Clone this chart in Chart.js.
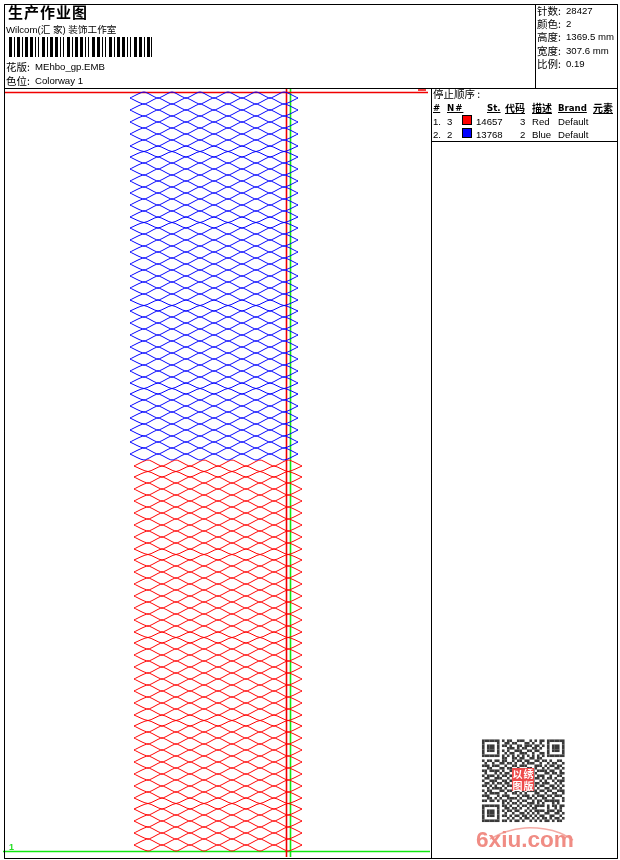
<!DOCTYPE html>
<html><head><meta charset="utf-8">
<script src="https://cdn.jsdelivr.net/npm/chart.js@4"></script>
<style>
html,body{margin:0;padding:0;background:#fff}
#w{position:relative;width:620px;height:860px;overflow:hidden}
canvas{position:absolute;left:0;top:0}
.t{position:absolute;white-space:pre;color:#000;font:9.6px/12px "Liberation Sans","Noto Sans CJK SC",sans-serif}
.c{font:10.5px/12px "Noto Sans CJK SC",sans-serif}
.h{font:bold 8.6px/12px "DejaVu Sans",sans-serif;text-decoration:underline}
.hc{font:bold 10px/12px "Noto Sans CJK SC",sans-serif;text-decoration:underline}
.s{position:absolute;border:1px solid #000}
</style></head><body><div id="w"><canvas id="c" width="620" height="860"></canvas>
<div class="t" style="left:8px;top:2px;font:bold 15px/20px 'Noto Sans CJK SC';letter-spacing:1px">生产作业图</div>
<div class="t" style="left:6px;top:24px">Wilcom(汇 家) 装饰工作室</div>
<div class="t c" style="left:6px;top:61px">花版:</div><div class="t" style="left:35px;top:61px">MEhbo_gp.EMB</div>
<div class="t c" style="left:6px;top:75px">色位:</div><div class="t" style="left:35px;top:75px">Colorway 1</div>
<div class="t c" style="left:537px;top:5px">针数:</div><div class="t" style="left:566px;top:5px">28427</div>
<div class="t c" style="left:537px;top:18px">颜色:</div><div class="t" style="left:566px;top:18px">2</div>
<div class="t c" style="left:537px;top:31px">高度:</div><div class="t" style="left:566px;top:31px">1369.5 mm</div>
<div class="t c" style="left:537px;top:45px">宽度:</div><div class="t" style="left:566px;top:45px">307.6 mm</div>
<div class="t c" style="left:537px;top:58px">比例:</div><div class="t" style="left:566px;top:58px">0.19</div>
<div class="t c" style="left:433px;top:88px">停止顺序 :</div>
<div class="t h" style="left:433px;top:102px">#</div>
<div class="t h" style="left:447px;top:102px;letter-spacing:1px">N#</div>
<div class="t h" style="left:487px;top:102px">St.</div>
<div class="t hc" style="left:505px;top:102px">代码</div>
<div class="t hc" style="left:532px;top:102px">描述</div>
<div class="t h" style="left:558px;top:102px">Brand</div>
<div class="t hc" style="left:593px;top:102px">元素</div>
<div class="t" style="left:433px;top:116px">1.</div><div class="t" style="left:447px;top:116px">3</div>
<div class="s" style="left:462px;top:115px;width:8px;height:8px;background:#f00"></div>
<div class="t" style="left:476px;top:116px">14657</div>
<div class="t" style="left:520px;top:116px">3</div>
<div class="t" style="left:532px;top:116px">Red</div>
<div class="t" style="left:558px;top:116px">Default</div>
<div class="t" style="left:433px;top:129px">2.</div><div class="t" style="left:447px;top:129px">2</div>
<div class="s" style="left:462px;top:128px;width:8px;height:8px;background:#00f"></div>
<div class="t" style="left:476px;top:129px">13768</div>
<div class="t" style="left:520px;top:129px">2</div>
<div class="t" style="left:532px;top:129px">Blue</div>
<div class="t" style="left:558px;top:129px">Default</div>
<div class="t" style="left:9px;top:841px;color:#22dd22;font-size:9px;font-weight:bold">1</div>
<div style="position:absolute;left:512px;top:768px;width:22px;height:23px;background:#ee4a4a;display:grid;grid-template-columns:1fr 1fr;grid-template-rows:1fr 1fr;color:#fff;font:bold 10px/11px 'Noto Sans CJK SC';text-align:center"><span>以</span><span>绣</span><span>图</span><span>版</span></div>
<div class="t" style="left:476px;top:827px;font:bold 22.6px/26px 'Liberation Sans';color:#f08c84">6xiu.com</div>
</div>
<script>
const blueNodeX=[130,144,158,172,186,200,214,228,242,256,270,284,298];
const redNodeX=[134,148,162,176,190,204,218,232,246,260,274,288,302];
const blueRowY=[92,98,104,110,116,122,128,134,140,146,151.5,157,163,169,175,181,187,193,199,205,211,217,222.5,228,234,240,246,252,258,264,270,276,282,288,294,300,305.5,311,317,323,329,335,341,347,353,359,365,371,377,383,388.5,394,400,406,412,418,424,430,436,442,448,454,460];
const redRowY=[460,466,471.5,477,483,489,495,501,507,513,519,525,531,537,543,549,554.5,560,566,572,578,584,590,596,602,608,614,620,626,632,637.5,643,649,655,661,667,673,679,685,691,697,703,709,715,720.5,726,732,738,744,750,756,762,768,774,780,786,792,798,803.5,809,815,821,827,833,839,845,851];
const blackLines=[[4.5,4.5,617.5,4.5],[4.5,858.5,617.5,858.5],[4.5,4.5,4.5,858.5],[617.5,4.5,617.5,858.5],[4.5,88.5,617.5,88.5],[535.5,4.5,535.5,88.5],[431.5,88.5,431.5,858.5],[431.5,141.5,617.5,141.5]];
const redLines=[[4,92.5,428,92.5],[286.5,89,286.5,857],[418,90,426,90]];
const greenLines=[[3,851.5,430,851.5],[290.5,89,290.5,857]];
const barThinX=[14.5,22.5,35.5,38.5,47.5,60.5,63.5,72.5,85.5,88.5,102.5,105.5,114.5,127.5,130.5,144.5,151.5];
const barWideX=[10.5,18.5,26.5,31.5,43.5,51.5,56.5,68.5,76.5,81.5,93.5,98.5,110.5,118.5,123.5,135.5,140.5,148.5];
const swooshX=[490,505,525,545,560,573];
const swooshY=[839,832,828,829,833,840];
const qrRows=["111111101011001110010101101111111","100000100110110001101001001000001","101110101101001101110110101011101","101110100011101011001101001011101","101110101010011100110110001011101","100000100101100111001001101000001","111111101010101010101010101111111","000000001100110110011011000000000","101101101100101101100110110100110","010010011011010010111001001011001","111011100100110111000111010110110","001100011011001000110100101001101","110111101001110110011011110110010","010001010110011001100100011011011","101110101101100111011011100100110","011001110010111000100110101101001","100111001101001110111001010010111","011010110110110001000110111001010","110101001011011110110101100110101","001011110100100101001010011011010","101100011011011010111101101100111","010111100100110101000110010011001","111000101110001011101011101101110","001101010011110100110100110010001","110110101101001011001011011111101","000000001010110100111010100010100","111111101101001011010111101011011","100000100110110100101100001001010","101110101011011001010111101110110","101110100100100110101010011001101","101110101101011011010101100110010","100000100010100101101010110101101","111111101101011010010101011010110"];

function wave(xs,rows,i){return xs.map((x,k)=>({x,y:(i+k)%2===1?rows[i]:rows[i+1]}));}
function meshSets(xs,rows,color){const out=[];for(let i=0;i<rows.length-1;i++)out.push({data:wave(xs,rows,i),borderColor:color,borderWidth:1,tension:0.22,pointRadius:0,clip:false});return out;}
function segs(list){const d=[];list.forEach(s=>{d.push({x:s[0],y:s[1]},{x:s[2],y:s[3]},{x:s[2],y:null});});return d;}
function lineSet(list,color,w){return {data:segs(list),borderColor:color,borderWidth:w,pointRadius:0,spanGaps:false,tension:0,clip:false};}
const barTop=37,barBot=57;
const qrLeft=482,qrTop=739.5,qrMod=2.5;
const qrPts=[];qrRows.forEach((r,j)=>[...r].forEach((v,k)=>{if(v==='1')qrPts.push({x:qrLeft+k*qrMod+qrMod/2,y:qrTop+j*qrMod+qrMod/2});}));
new Chart(document.getElementById('c'),{type:'scatter',data:{datasets:[
 ...meshSets(blueNodeX,blueRowY,'#0000ff'),
 ...meshSets(redNodeX,redRowY,'#ff0000'),
 {data:qrPts,showLine:false,pointStyle:'rect',pointRadius:1.85,pointBorderWidth:0,borderWidth:0,pointBackgroundColor:'#3a3a3a',clip:false},
 {data:swooshX.map((x,i)=>({x,y:swooshY[i]})),borderColor:'#f4aaa4',borderWidth:1.5,tension:.4,pointRadius:0,showLine:true,clip:false},
 lineSet(barThinX.map(x=>[x,barTop,x,barBot]),'#000',1),
 lineSet(barWideX.map(x=>[x,barTop,x,barBot]),'#000',3),
 lineSet(blackLines,'#000',1),
 lineSet(redLines,'#f00000',1.6),
 lineSet(greenLines,'#10e810',1.6)
].map(d=>({showLine:d.showLine!==false,...d}))},
options:{responsive:false,animation:false,devicePixelRatio:1,events:[],layout:{padding:0,autoPadding:false},
 plugins:{legend:{display:false},tooltip:{enabled:false},title:{display:false}},
 scales:{x:{type:'linear',display:false,min:0,max:620},y:{type:'linear',display:false,min:0,max:860,reverse:true}}}});
</script></body></html>
